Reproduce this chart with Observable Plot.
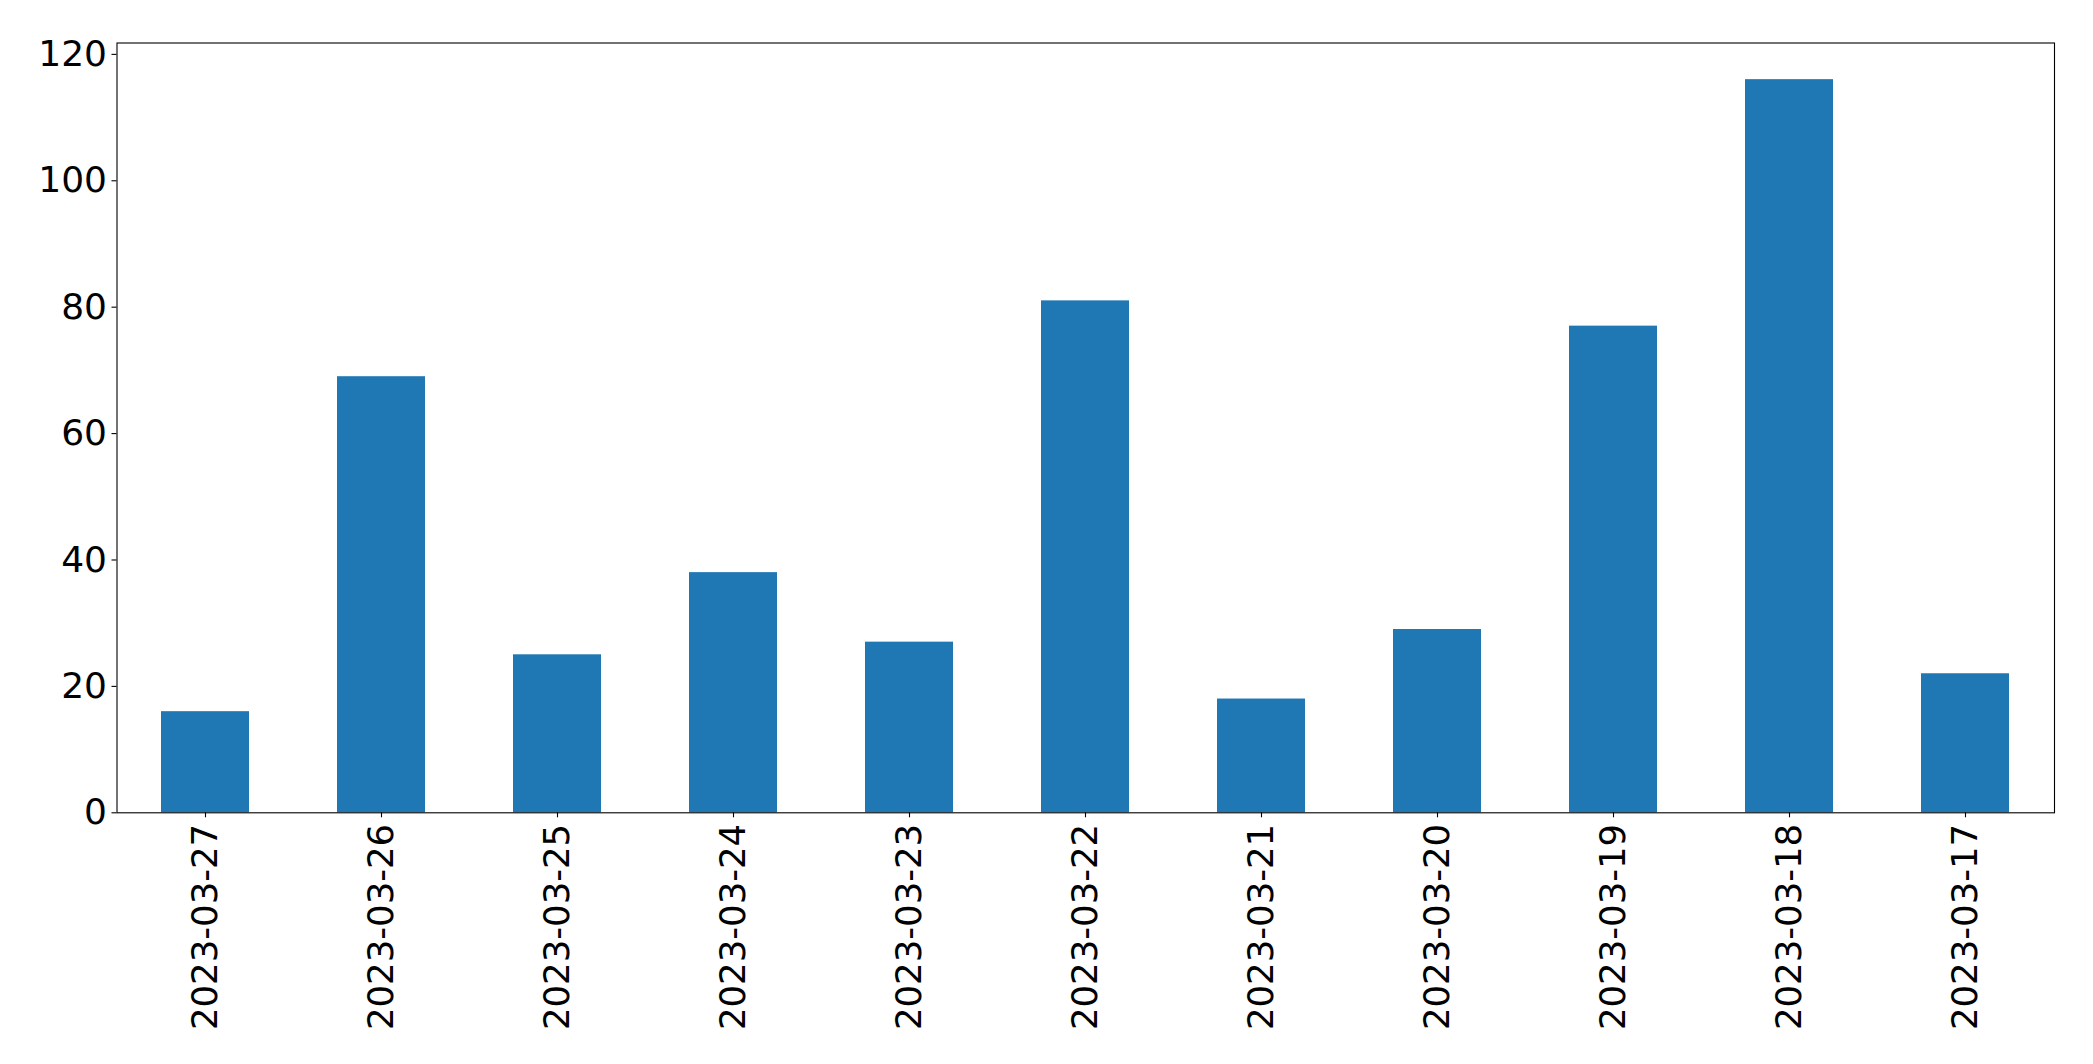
<!DOCTYPE html>
<html>
<head>
<meta charset="utf-8">
<script src="https://cdn.jsdelivr.net/npm/d3@7"></script>
<script src="https://cdn.jsdelivr.net/npm/@observablehq/plot@0.6"></script>
<style>
  html, body { margin: 0; padding: 0; background: white; }
  #chart svg { display: block; }
</style>
</head>
<body>
<div id="chart"></div>
<script>
const dates = ["2023-03-27","2023-03-26","2023-03-25","2023-03-24","2023-03-23","2023-03-22","2023-03-21","2023-03-20","2023-03-19","2023-03-18","2023-03-17"];
const counts = [16, 69, 25, 38, 27, 81, 18, 29, 77, 116, 22];
const yTicks = [0, 20, 40, 60, 80, 100, 120];

const data = dates.map((d, i) => ({date: d, count: counts[i]}));
const font = "DejaVu Sans";

const chart = Plot.plot({
  width: 2093,
  height: 1064,
  marginLeft: 116.5,
  marginRight: 39,
  marginTop: 42.5,
  marginBottom: 251.7,
  style: {fontFamily: font, background: "white", color: "black"},
  x: {type: "band", domain: dates, paddingInner: 0.5, paddingOuter: 0.25, label: null},
  y: {domain: [0, d3.max(counts) * 1.05], label: null},
  marks: [
    Plot.barY(data, {x: "date", y: "count", fill: "#1f77b4"}),
    Plot.axisY({ticks: yTicks, tickSize: 5, tickPadding: 5, fontSize: 36, fontFamily: font, label: null, stroke: "black", strokeWidth: 1.1, strokeOpacity: 1, fill: "black"}),
    Plot.axisX({tickSize: 5, tickPadding: 6, tickRotate: -90, fontSize: 35.5, fontFamily: font, label: null, stroke: "black", strokeWidth: 1.1, strokeOpacity: 1, fill: "black"}),
    Plot.frame({stroke: "black", strokeWidth: 1.1})
  ]
});
document.getElementById("chart").appendChild(chart);
</script>
</body>
</html>
